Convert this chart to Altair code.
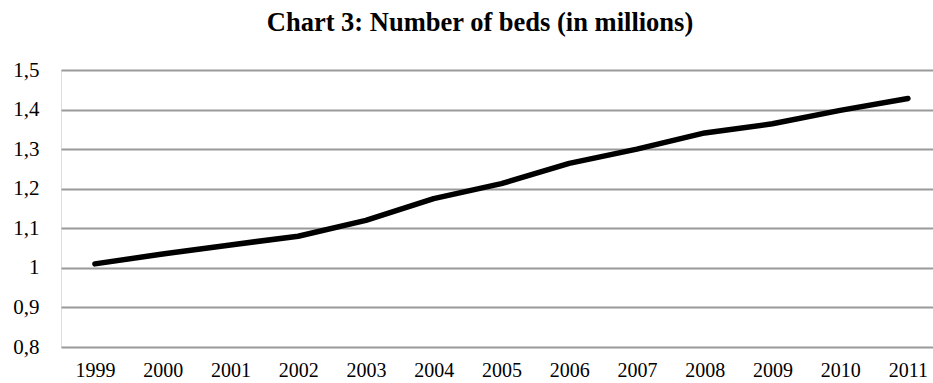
import altair as alt
import pandas as pd

years = [1999, 2000, 2001, 2002, 2003, 2004, 2005, 2006, 2007, 2008, 2009, 2010, 2011]
beds = [1.010, 1.035, 1.058, 1.080, 1.120, 1.175, 1.213, 1.264, 1.300, 1.341, 1.364, 1.398, 1.428]
y_ticks = [0.8, 0.9, 1.0, 1.1, 1.2, 1.3, 1.4, 1.5]
title_text = "Chart 3: Number of beds (in millions)"

df = pd.DataFrame({"year": years, "beds": beds})

FONT = "Liberation Serif"

chart = alt.Chart(df).mark_line(color="black", strokeWidth=5.5, strokeCap="round", strokeJoin="round").encode(
    x=alt.X("year:Q",
            scale=alt.Scale(domain=[1998.5, 2011.37], nice=False, zero=False),
            axis=alt.Axis(values=years, format="d", title=None, grid=False, domain=False,
                          ticks=False, labelFont=FONT, labelFontSize=20, labelColor="black",
                          labelPadding=13, labelFlush=False)),
    y=alt.Y("beds:Q",
            scale=alt.Scale(domain=[0.8, 1.5], nice=False, zero=False),
            axis=alt.Axis(values=y_ticks, title=None, domain=False, ticks=False,
                          labelExpr="replace(format(datum.value, '~g'), '.', ',')",
                          labelFont=FONT, labelFontSize=21, labelColor="black",
                          labelPadding=22, gridColor="#9a9a9a", gridWidth=1.8, gridOpacity=1)),
).properties(
    width=872,
    height=277,
    title=alt.TitleParams(title_text, font=FONT, fontSize=26.5, fontWeight="bold", color="black",
                          anchor="middle", dx=-17, offset=23),
    autosize=alt.AutoSizeParams(type="none"),
    padding={"left": 61, "top": 70, "right": 0, "bottom": 36},
).configure_view(stroke=None).configure(background="white")

chart.save("out.html", embed_options={"renderer": "svg", "actions": False})
